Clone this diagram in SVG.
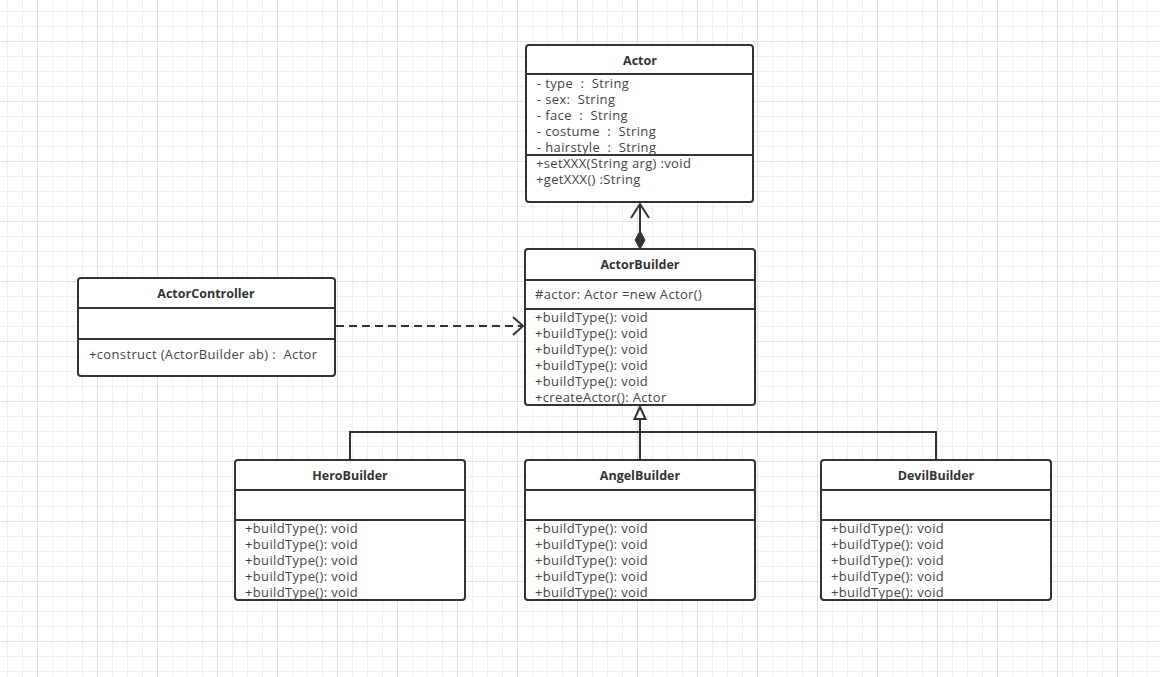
<svg xmlns="http://www.w3.org/2000/svg" width="1160" height="677" viewBox="0 0 1160 677">
<defs>
<pattern id="grid" patternUnits="userSpaceOnUse" x="37" y="41" width="60" height="60">
<path d="M15.5 0V60M30.5 0V60M45.5 0V60M0 15.5H60M0 30.5H60M0 45.5H60" stroke="#efefef" stroke-width="1" fill="none"/>
<path d="M0.5 0V60M0 0.5H60" stroke="#e2e2e2" stroke-width="1" fill="none"/>
</pattern>
<style>
.box{fill:#fff;stroke:#333;stroke-width:2}
.sep{stroke:#333;stroke-width:2}
.t{font-family:"Open Sans","Noto Sans",sans-serif;font-size:12.5px;fill:#333;font-weight:bold;text-anchor:middle}
.m{font-family:"Open Sans","Noto Sans",sans-serif;font-size:13px;letter-spacing:0.35px;fill:#444;white-space:pre}
.ln{fill:none;stroke:#333;stroke-width:2}
</style>
</defs>
<rect width="1160" height="677" fill="#fff"/>
<rect width="1160" height="677" fill="url(#grid)"/>

<g id="connectors">
<path class="ln" d="M640 232 V204"/>
<path class="ln" d="M631 218 L640 204 L649 218"/>
<path d="M640 231 L645 240 L640 249 L635 240 Z" fill="#333" stroke="#333" stroke-width="1"/>
<path class="ln" d="M336 326 H522" stroke-dasharray="8 5"/>
<path class="ln" d="M513 317 L523 326 L513 335"/>
<path class="ln" d="M350 460 V432 H936 V460 M640 460 V419"/>
<path d="M640 407 L645.5 419 L634.5 419 Z" fill="#fff" stroke="#333" stroke-width="2"/>
</g>

<g id="Actor">
<rect class="box" x="526" y="45" width="227" height="157" rx="3"/>
<line class="sep" x1="526" y1="74" x2="753" y2="74"/>
<line class="sep" x1="526" y1="155" x2="753" y2="155"/>
<text class="t" x="640" y="65">Actor</text>
<text class="m" x="537" y="88" xml:space="preserve">- type  :  String</text>
<text class="m" x="537" y="104" xml:space="preserve">- sex:  String</text>
<text class="m" x="537" y="120" xml:space="preserve">- face  :  String</text>
<text class="m" x="537" y="136" xml:space="preserve">- costume  :  String</text>
<text class="m" x="537" y="152" xml:space="preserve">- hairstyle  :  String</text>
<text class="m" x="536" y="168">+setXXX(String arg) :void</text>
<text class="m" x="536" y="184">+getXXX() :String</text>
</g>

<g id="ActorBuilder">
<rect class="box" x="525" y="249" width="230" height="156" rx="3"/>
<line class="sep" x1="525" y1="280" x2="755" y2="280"/>
<line class="sep" x1="525" y1="309" x2="755" y2="309"/>
<text class="t" x="640" y="269">ActorBuilder</text>
<text class="m" x="535" y="299">#actor: Actor =new Actor()</text>
<text class="m" x="535" y="322">+buildType(): void</text>
<text class="m" x="535" y="338">+buildType(): void</text>
<text class="m" x="535" y="354">+buildType(): void</text>
<text class="m" x="535" y="370">+buildType(): void</text>
<text class="m" x="535" y="386">+buildType(): void</text>
<text class="m" x="535" y="402">+createActor(): Actor</text>
</g>

<g id="ActorController">
<rect class="box" x="78" y="278" width="257" height="98" rx="3"/>
<line class="sep" x1="78" y1="308" x2="335" y2="308"/>
<line class="sep" x1="78" y1="339" x2="335" y2="339"/>
<text class="t" x="206" y="298">ActorController</text>
<text class="m" x="89" y="359" xml:space="preserve">+construct (ActorBuilder ab) :  Actor</text>
</g>

<g id="HeroBuilder">
<rect class="box" x="235" y="460" width="230" height="140" rx="3"/>
<line class="sep" x1="235" y1="490" x2="465" y2="490"/>
<line class="sep" x1="235" y1="520" x2="465" y2="520"/>
<text class="t" x="350" y="480">HeroBuilder</text>
<text class="m" x="245" y="533">+buildType(): void</text>
<text class="m" x="245" y="549">+buildType(): void</text>
<text class="m" x="245" y="565">+buildType(): void</text>
<text class="m" x="245" y="581">+buildType(): void</text>
<text class="m" x="245" y="597">+buildType(): void</text>
</g>

<g id="AngelBuilder">
<rect class="box" x="525" y="460" width="230" height="140" rx="3"/>
<line class="sep" x1="525" y1="490" x2="755" y2="490"/>
<line class="sep" x1="525" y1="520" x2="755" y2="520"/>
<text class="t" x="640" y="480">AngelBuilder</text>
<text class="m" x="535" y="533">+buildType(): void</text>
<text class="m" x="535" y="549">+buildType(): void</text>
<text class="m" x="535" y="565">+buildType(): void</text>
<text class="m" x="535" y="581">+buildType(): void</text>
<text class="m" x="535" y="597">+buildType(): void</text>
</g>

<g id="DevilBuilder">
<rect class="box" x="821" y="460" width="230" height="140" rx="3"/>
<line class="sep" x1="821" y1="490" x2="1051" y2="490"/>
<line class="sep" x1="821" y1="520" x2="1051" y2="520"/>
<text class="t" x="936" y="480">DevilBuilder</text>
<text class="m" x="831" y="533">+buildType(): void</text>
<text class="m" x="831" y="549">+buildType(): void</text>
<text class="m" x="831" y="565">+buildType(): void</text>
<text class="m" x="831" y="581">+buildType(): void</text>
<text class="m" x="831" y="597">+buildType(): void</text>
</g>
</svg>
